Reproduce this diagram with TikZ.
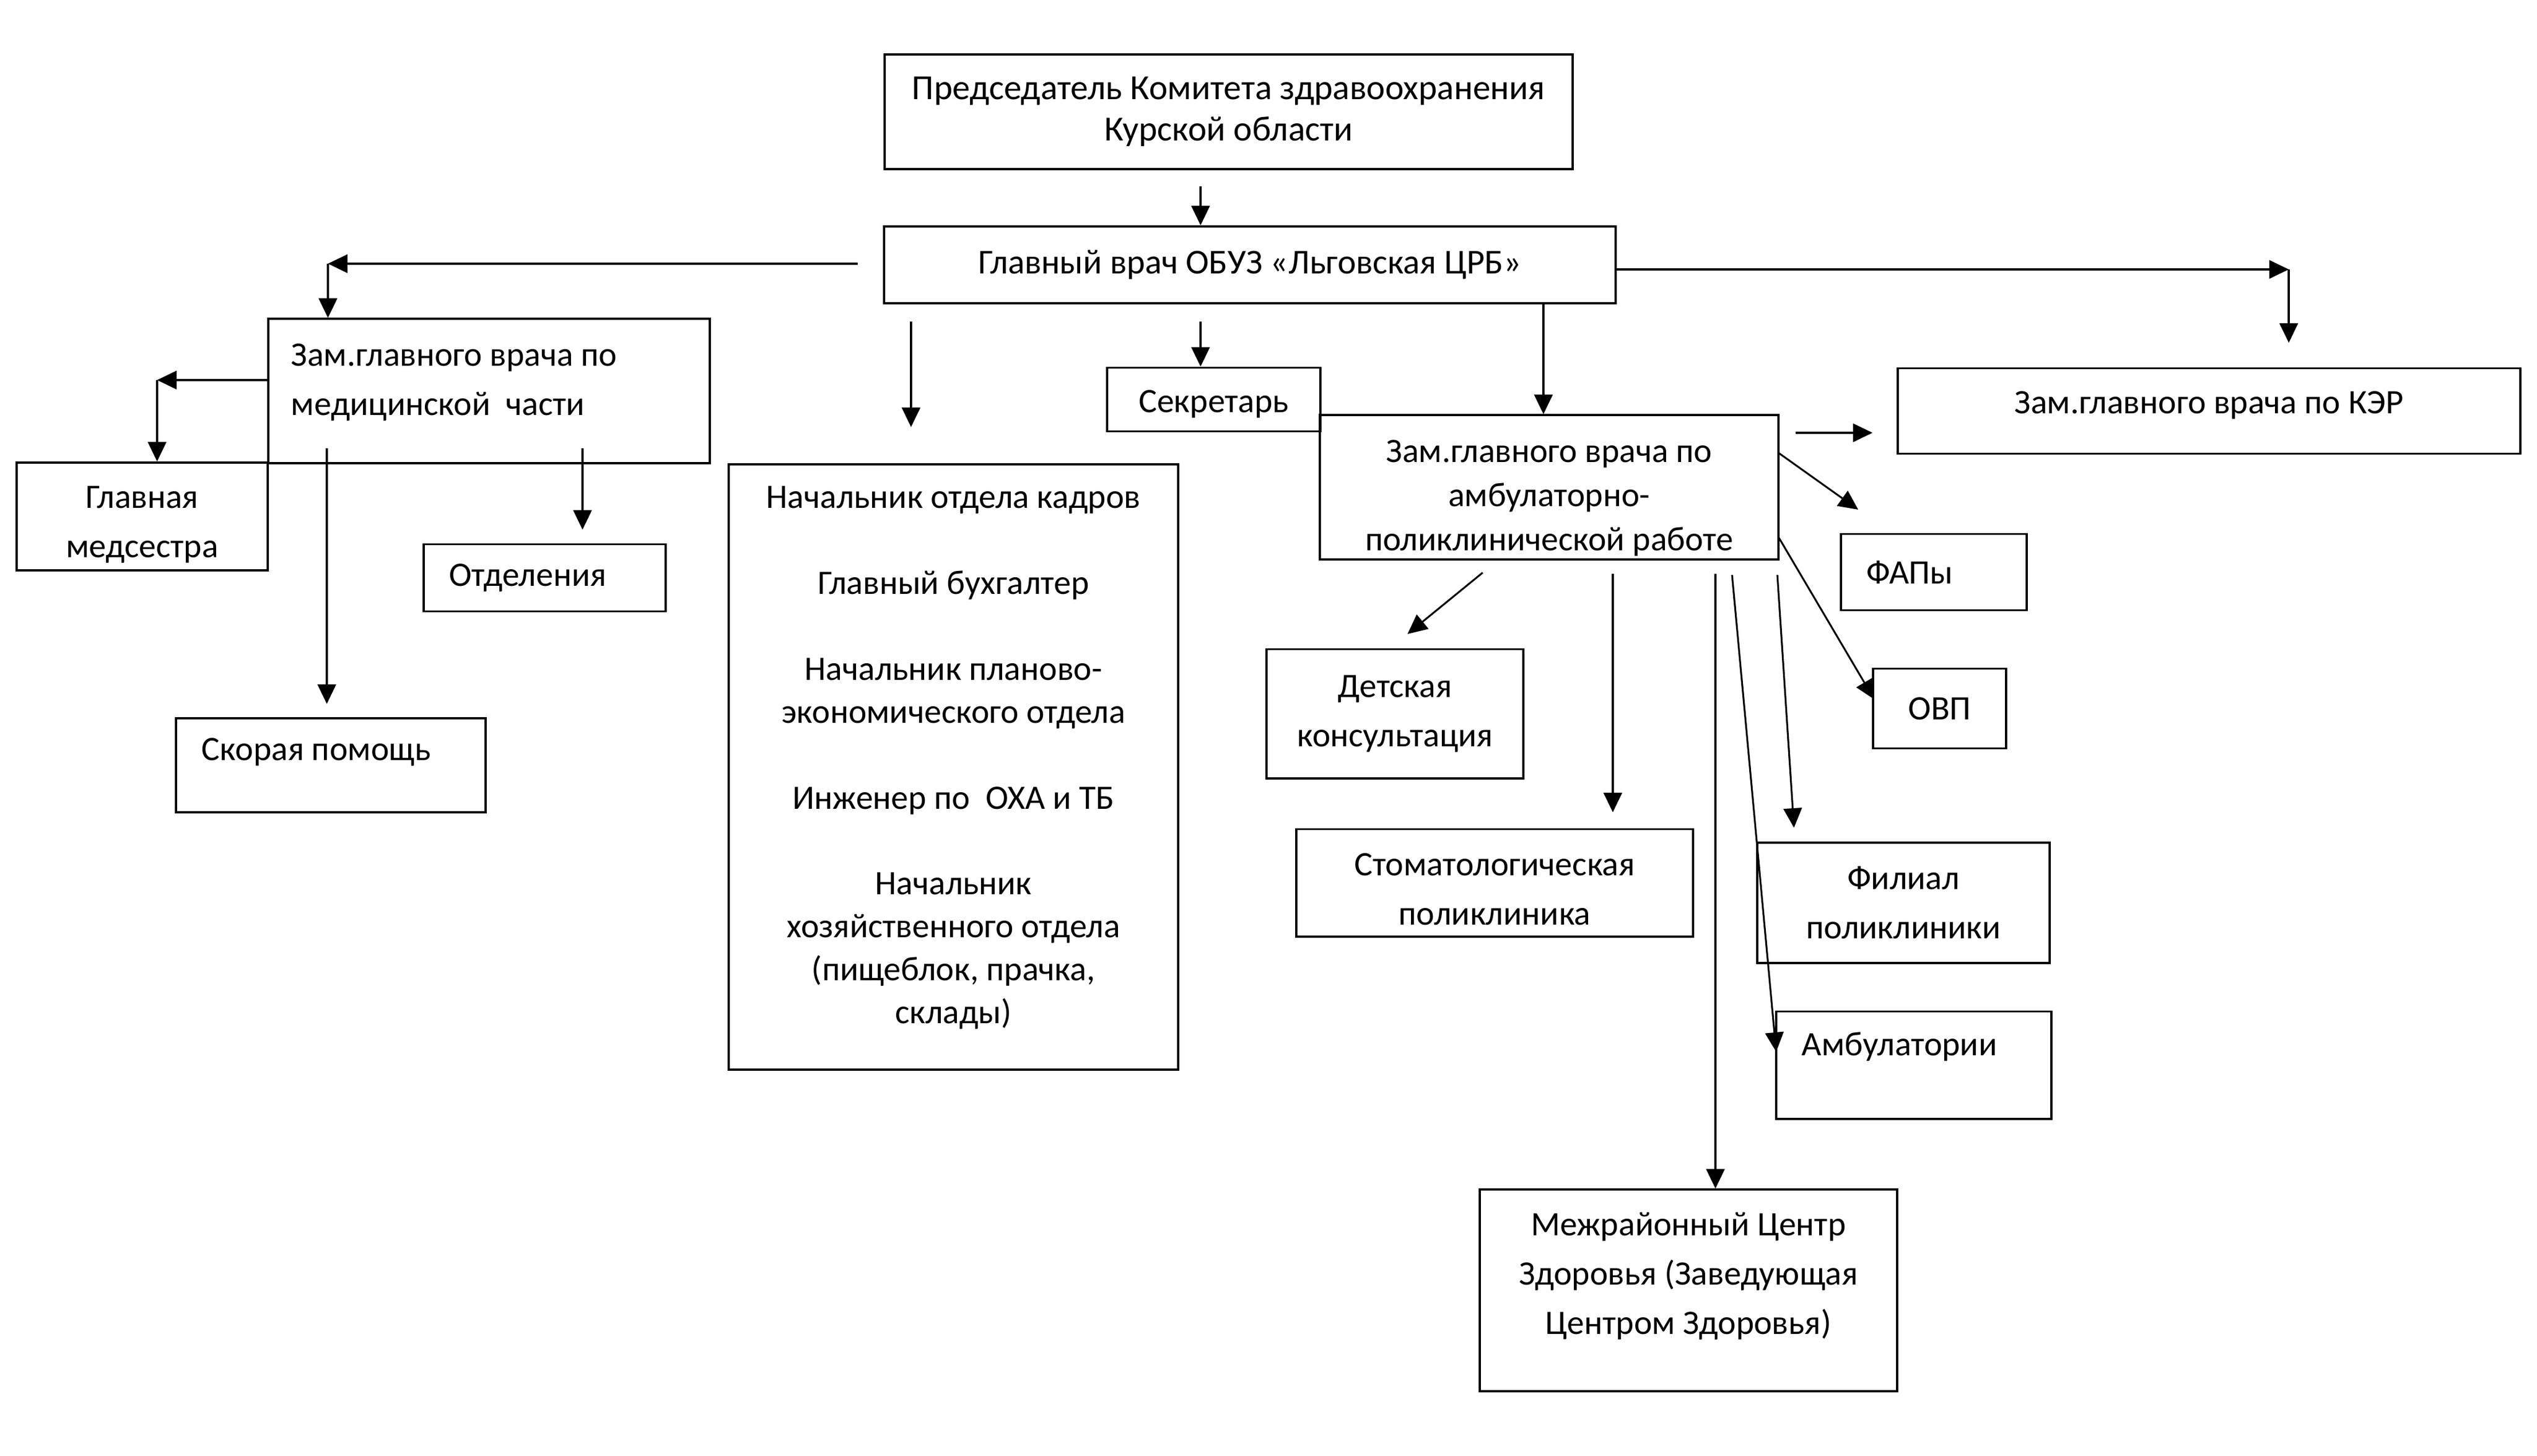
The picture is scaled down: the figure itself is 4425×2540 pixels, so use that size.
\documentclass[tikz,border=0pt]{standalone}
\usepackage{fontspec}
\setmainfont{Carlito}
\usetikzlibrary{arrows.meta,calc}
\begin{document}
\begin{tikzpicture}[x=0.01cm,y=-0.01cm,
  box/.style={draw, line width=1.1pt, inner sep=0pt, align=center, font=\fontsize{17}{24.5}\selectfont},
  arr/.style={line width=0.9pt, -{Triangle[length=0.34cm,width=0.32cm]}},
  ln/.style={line width=0.9pt}]
\useasboundingbox (0,0) rectangle (4425,2540);
\fill[white] (0,0) rectangle (4425,2540);

% boxes
\node[box, minimum width=11.99cm, minimum height=2.00cm, font=\fontsize{17.5}{20.5}\selectfont] (top) at (2143,195) {Председатель Комитета здравоохранения\\Курской области};
\node[box, minimum width=12.75cm, minimum height=1.34cm, font=\fontsize{17.3}{24.5}\selectfont] (main) at (2180,462) {Главный врач ОБУЗ «Льговская ЦРБ»};
\node[box, minimum width=7.70cm, minimum height=2.51cm, text width=6.9cm, align=flush left, text height=0.09cm] (zm) at (853,682) {Зам.главного врача по\\медицинской\ \ части};
\node[box, minimum width=4.37cm, minimum height=1.88cm, text height=1.53cm] (glav) at (248,901) {Главная\\медсестра};
\node[box, minimum width=4.21cm, minimum height=1.17cm, text width=3.33cm, align=flush left] (otd) at (950,1008) {Отделения};
\node[box, minimum width=5.40cm, minimum height=1.64cm, text width=4.5cm, align=flush left, text depth=0.55cm] (skor) at (577,1335) {Скорая помощь};
\node[box, minimum width=7.83cm, minimum height=10.56cm, font=\fontsize{17}{21.3}\selectfont, text depth=0.42cm] (big) at (1663,1338) {Начальник отдела кадров\\[21.3pt]Главный бухгалтер\\[21.3pt]Начальник планово-\\экономического отдела\\[21.3pt]Инженер по\ \ ОХА и ТБ\\[21.3pt]Начальник\\хозяйственного отдела\\(пищеблок, прачка,\\склады)};
\node[box, minimum width=3.71cm, minimum height=1.11cm, text height=0.55cm] (secr) at (2117,697) {Секретарь};
\node[box, minimum width=7.99cm, minimum height=2.51cm, font=\fontsize{17}{22}\selectfont, text height=2.31cm] (za) at (2702,850) {Зам.главного врача по\\амбулаторно-\\поликлинической работе};
\node[box, minimum width=10.85cm, minimum height=1.49cm, text depth=0.3cm] (ker) at (3853,717) {Зам.главного врача по КЭР};
\node[box, minimum width=3.24cm, minimum height=1.33cm, text width=2.34cm, align=flush left] (fap) at (3373,998) {ФАПы};
\node[box, minimum width=2.32cm, minimum height=1.39cm] (ovp) at (3383,1236) {ОВП};
\node[box, minimum width=4.47cm, minimum height=2.25cm] (det) at (2433,1245) {Детская\\консультация};
\node[box, minimum width=6.91cm, minimum height=1.87cm, text height=1.47cm] (stom) at (2607,1540) {Стоматологическая\\поликлиника};
\node[box, minimum width=5.09cm, minimum height=2.10cm] (fil) at (3320,1575) {Филиал\\поликлиники};
\node[box, minimum width=4.80cm, minimum height=1.87cm, text width=3.90cm, align=flush left, text depth=0.73cm] (amb) at (3338,1858) {Амбулатории};
\node[box, minimum width=7.27cm, minimum height=3.51cm, text depth=0.59cm] (mcz) at (2945,2251) {Межрайонный Центр\\Здоровья (Заведующая\\Центром Здоровья)};

% helper coordinates
\coordinate (c1) at (2094,325);
\coordinate (c2) at (1496,460);
\coordinate (c3) at (572,460);
\coordinate (c5) at (274,663);
\coordinate (c6) at (570,782);
\coordinate (c6e) at (570,1228);
\coordinate (c7) at (1016,782);
\coordinate (c7e) at (1016,924);
\coordinate (c8) at (1589,561);
\coordinate (c8e) at (1589,745);
\coordinate (c9) at (2094,561);
\coordinate (c10) at (2692,600);
\coordinate (c11) at (3992,470);
\coordinate (c12) at (3992,598);
\coordinate (k1) at (3132,755);
\coordinate (k2) at (3266,755);
\coordinate (f1) at (3102,790);
\coordinate (f2) at (3241,889);
\coordinate (o1) at (3102,937);
\coordinate (o2) at (3269,1220);
\coordinate (d1) at (2586,999);
\coordinate (d2) at (2455,1106);
\coordinate (s1) at (2813,1001);
\coordinate (s2) at (2813,1417);
\coordinate (m1) at (2992,1001);
\coordinate (a1) at (3021,1003);
\coordinate (a2) at (3098,1835);
\coordinate (p1) at (3100,1003);
\coordinate (p2) at (3129,1444);

% connectors
\draw[arr] (c1) -- (c1 |- main.north);
\draw[arr] (c2) -- (c3);
\draw[arr] (c3) -- (c3 |- zm.north);
\draw[arr] (zm.west |- c5) -- (c5);
\draw[arr] (c5) -- (c5 |- glav.north);
\draw[arr] (c6) -- (c6e);
\draw[arr] (c7) -- (c7e);
\draw[arr] (c8) -- (c8e);
\draw[arr] (c9) -- (c9 |- secr.north);
\draw[arr] (main.south -| c10) -- (c10 |- za.north);
\draw[arr] (main.east |- c11) -- (c11);
\draw[arr] (c11) -- (c12);
\draw[arr] (k1) -- (k2);
\draw[arr] (f1) -- (f2);
\draw[arr] (o1) -- (o2);
\draw[arr] (d1) -- (d2);
\draw[arr] (s1) -- (s2);
\draw[arr] (m1) -- (m1 |- mcz.north);
\draw[arr] (a1) -- (a2);
\draw[arr] (p1) -- (p2);
\end{tikzpicture}
\end{document}
